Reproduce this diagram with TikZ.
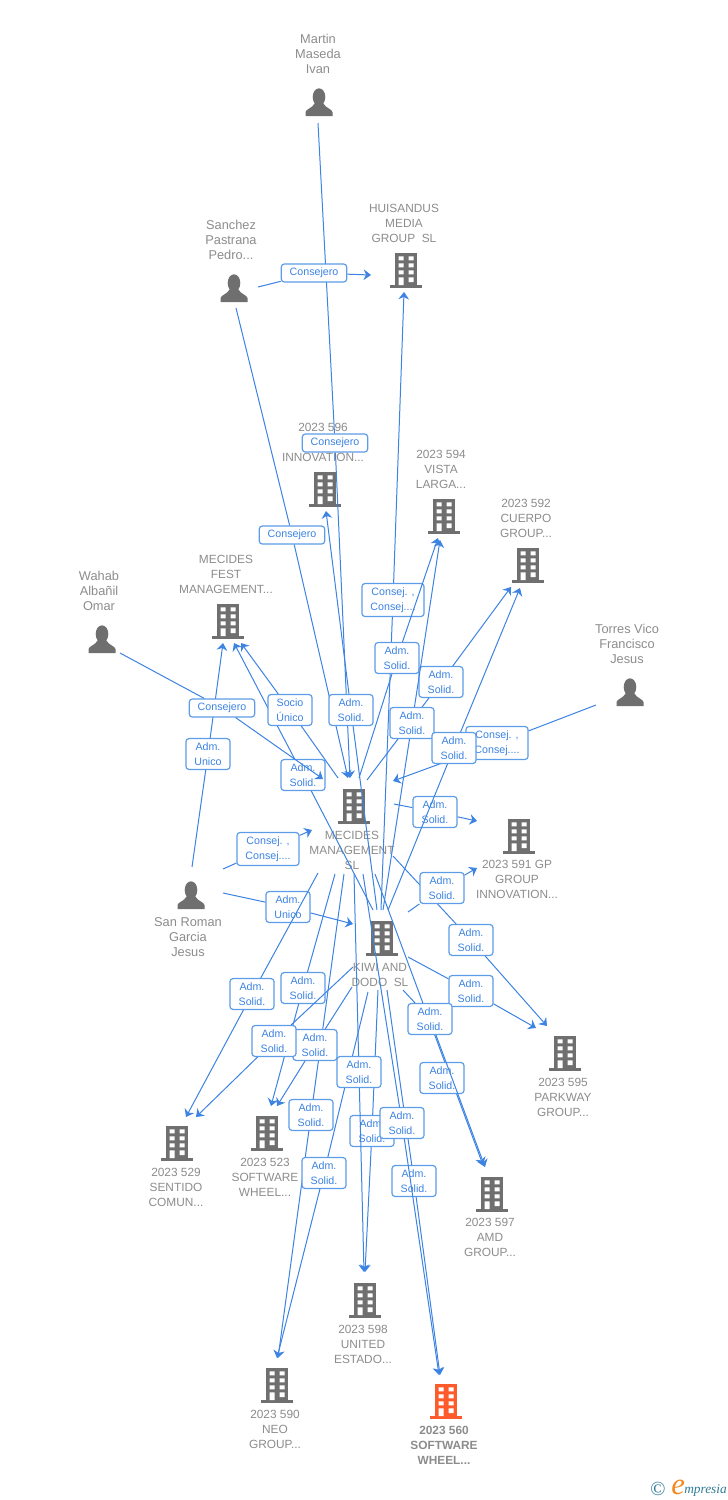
\documentclass[tikz,border=0pt]{standalone}
\usepackage{fontspec}
\setmainfont{Liberation Sans}
\newfontfamily\logofont{Liberation Serif}
\usetikzlibrary{arrows.meta}
\definecolor{linkblue}{HTML}{3C83E2}
\definecolor{boxblue}{HTML}{5D9CE8}
\definecolor{iconcol}{HTML}{6F6F6F}
\definecolor{textcol}{HTML}{8C8C8C}
\definecolor{mainorange}{HTML}{FF5A2B}
\definecolor{logoteal}{HTML}{2F7A96}
\definecolor{logoorange}{HTML}{F5871F}
\tikzset{
  building/.style={minimum width=27pt, minimum height=30pt, inner sep=0pt,
    path picture={
      \fill[#1] (-11,-17) rectangle (11,15);
      \fill[#1] (-16,15) rectangle (16,17.5);
      \fill[white] (-7.5,-13.7) rectangle (-2.5,-9.7) (2.5,-13.7) rectangle (7.5,-9.7)
        (-7.5,-6.7) rectangle (-2.5,-2.7) (2.5,-6.7) rectangle (7.5,-2.7)
        (-7.5,0.3) rectangle (-2.5,4.3) (2.5,0.3) rectangle (7.5,4.3)
        (-7.5,7.3) rectangle (-2.5,15) (2.5,7.3) rectangle (7.5,12);
    }},
  person/.style={minimum width=27pt, minimum height=30pt, inner sep=0pt,
    path picture={
      \fill[iconcol] (0,-5) ellipse[x radius=6.3, y radius=8.7];
      \fill[iconcol] (-13.5,14) -- (-13.5,10) .. controls (-13,7) and (-7,6.5) .. (-4,1)
        -- (4,1) .. controls (7,6.5) and (13,7) .. (13.5,10) -- (13.5,14) -- cycle;
    }},
  nametext/.style={text=textcol, align=center, inner sep=0pt,
    font=\fontsize{8.9}{11.25}\selectfont},
  whotext/.style={nametext, font=\fontsize{9.6}{11.25}\selectfont},
  tagbox/.style={draw=boxblue, line width=0.9pt, rounded corners=2.2pt, fill=white,
    text=linkblue, align=center, inner xsep=0pt, inner ysep=3pt,
    font=\fontsize{8}{11.25}\selectfont},
  link/.style={draw=linkblue, line width=0.75pt, -{Stealth[length=5.5pt,width=8pt,inset=1.8pt]}}
}
\begin{document}
\begin{tikzpicture}[x=0.75pt, y=-0.75pt]
\useasboundingbox (0,0) rectangle (728,1500);
\foreach \coord/\xa/\ya in {martin/319/102, sanchez/234/288, wahab/102/639, torres/630/692, sanroman/191/895}{
  \node[person] (\coord) at (\xa,\ya) {};
}
\foreach \coord/\xa/\ya in {huisandus/406/270, inno/325/489, vista/444/516, cuerpo/528/565, fest/228/621,
  mecides/354/806, gpgroup/519/836, kiwi/382/938, parkway/565/1053, sentido/177/1143, softw/267/1133,
  amd/492/1194, united/365/1300, neo/277/1385}{
  \node[building=iconcol] (\coord) at (\xa,\ya) {};
}
\node[building=mainorange] (wheel) at (446,1401) {};
%------------------
\foreach \coord/\xa/\ya/\txt in {
  martin/318/54/{Martin\\Maseda\\Ivan},
  sanchez/231/240/{Sanchez\\Pastrana\\Pedro...},
  wahab/99/591/{Wahab\\Albañil\\Omar},
  torres/627/644/{Torres Vico\\Francisco\\Jesus},
  sanroman/188/937/{San Roman\\Garcia\\Jesus}}{
  \node[whotext] (\coord text) at (\xa,\ya) {\txt};
}
\foreach \coord/\xa/\ya/\txt in {
  huisandus/404/223/{HUISANDUS\\MEDIA\\GROUP\ \ SL},
  inno/323/442/{2023 596\\\mbox{}\\INNOVATION...},
  vista/441/469/{2023 594\\VISTA\\LARGA...},
  cuerpo/526/518/{2023 592\\CUERPO\\GROUP...},
  fest/226/574/{MECIDES\\FEST\\MANAGEMENT...},
  mecides/352/850/{MECIDES\\MANAGEMENT\\SL},
  gpgroup/517/879/{2023 591 GP\\GROUP\\INNOVATION...},
  kiwi/380/974.5/{KIWI AND\\DODO\ \ SL},
  parkway/563/1097/{2023 595\\PARKWAY\\GROUP...},
  sentido/176/1187/{2023 529\\SENTIDO\\COMUN...},
  softw/265/1177/{2023 523\\SOFTWARE\\WHEEL...},
  amd/490/1237/{2023 597\\AMD\\GROUP...},
  united/363/1344/{2023 598\\UNITED\\ESTADO...},
  neo/275/1429/{2023 590\\NEO\\GROUP...}}{
  \node[nametext] (\coord text) at (\xa,\ya) {\txt};
}
\node[nametext, font=\fontsize{8.9}{11.25}\selectfont\bfseries] (wheel text) at (444,1445) {2023 560\\SOFTWARE\\WHEEL...};
%------------------
\newcommand{\tagAdm}{Adm.\\Solid.}
\newcommand{\tagUni}{Adm.\\Unico}
\newcommand{\tagCon}{Consej. ,\\Consej....}
\coordinate (s27) at (375,874);
\coordinate (e27) at (483,1165);
\draw[link] (s27)--(e27);
\node[tagbox, minimum width=33pt] (t27) at (442,1078) {\tagAdm};
\foreach \n/\tx/\ty/\w/\tag/\sx/\sy/\ex/\ey in {
  2/335/443/49pt/Consejero/318/123/350/778,
  1/314/273/49pt/Consejero/258/287/371/275,
  3/292/535/49pt/Consejero/236/308/348/778,
  4/393/600/46.5pt/\tagCon/381/910/404/292,
  9/351/710/33pt/\tagAdm/377/910/326/511,
  14/303/775/33pt/\tagAdm/373/910/234/643,
  13/208/754/33pt/\tagUni/192/867/223/643,
  7/222/708/49pt/Consejero/120/653/323/779,
  8/290/710/33pt/{Socio\\Único}/338/778/241/643,
  16/268/849/46.5pt/\tagCon/223/869/312/830,
  18/288/907/33pt/\tagUni/223/893/353/924,
  15/435/812/33pt/\tagAdm/394/804/477/821,
  11/497/743/46.5pt/\tagCon/596/705/393/781,
  5/397/658/33pt/\tagAdm/359/778/438/538,
  6/441/682/33pt/\tagAdm/367/780/511/587,
  10/412/723/33pt/\tagAdm/383/910/440/540,
  12/454/748/33pt/\tagAdm/388/910/520/588,
  19/471/940/33pt/\tagAdm/393/856/547/1026,
  17/442/888/33pt/\tagAdm/408/912/477/868,
  22/471/991/33pt/\tagAdm/408/957/536/1028,
  20/252/994/33pt/\tagAdm/318/873/186/1117,
  21/303/988/33pt/\tagAdm/335/874/271/1106,
  28/311/1115/33pt/\tagAdm/344/874/278/1358,
  25/315/1045/33pt/\tagAdm/352/987/277/1106,
  24/274/1041/33pt/\tagAdm/353/967/196/1117,
  23/430/1019/33pt/\tagAdm/403/990/485/1167,
  31/324/1173/33pt/\tagAdm/368/992/277/1358,
  29/372/1131/33pt/\tagAdm/378/990/365/1272,
  26/359/1072/33pt/\tagAdm/354/874/364/1272,
  32/414/1181/33pt/\tagAdm/387/990/440/1375,
  30/402/1123/33pt/\tagAdm/363/874/439/1375}{
  \node[tagbox, minimum width=\w] (t\n) at (\tx,\ty) {\tag};
  \coordinate (s\n) at (\sx,\sy);
  \coordinate (e\n) at (\ex,\ey);
  \draw[link] (s\n)--(t\n)--(e\n);
}
%------------------
\node[inner sep=0pt, text=logoteal, font=\fontsize{15}{15}\selectfont\logofont] (copyr) at (658,1489) {\textcopyright};
\node[inner sep=0pt, anchor=base west, text=logoorange, font=\fontsize{23}{23}\selectfont\logofont\itshape] (logoe) at (671,1494) {e};
\node[inner sep=0pt, anchor=base west, text=logoteal, font=\fontsize{10}{12}\selectfont\logofont\itshape] (logotxt) at (684,1493) {mpresia};
\end{tikzpicture}
\end{document}
